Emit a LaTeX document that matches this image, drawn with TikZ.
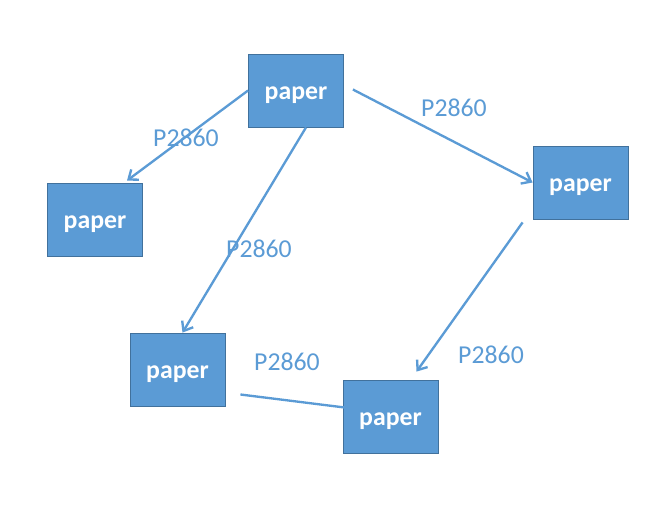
\documentclass[tikz,border=0pt]{standalone}
\usepackage{fontspec}
\setmainfont{Carlito}
\usetikzlibrary{arrows.meta,calc}
\definecolor{boxblue}{HTML}{5B9BD5}
\definecolor{boxedge}{HTML}{41719C}

\begin{document}
\begin{tikzpicture}[x=0.03cm, y=-0.03cm,
    paperbox/.style={fill=boxblue, draw=boxedge, line width=0.7pt, minimum width=2.85cm,
      minimum height=2.19cm, inner sep=0pt, text height=15pt, text depth=0pt, text=white,
      font=\fontsize{22}{26}\selectfont\bfseries},
    citelink/.style={draw=boxblue, line width=2pt, -{Straight Barb[length=7pt,width=11pt,line width=2pt]}},
    citelabel/.style={text=boxblue, font=\fontsize{22}{26}\selectfont}]
  \useasboundingbox (0,0) rectangle (671,512);
  \node[paperbox] (top) at (296,90.5) {paper};
  \node[paperbox] (left) at (95,219.5) {paper};
  \node[paperbox] (right) at (580.5,182.5) {paper};
  \node[paperbox] (botl) at (177.5,369.5) {paper};
  \node[paperbox] (botr) at (390.5,416.5) {paper};
  \draw[citelink] (top.west) -- ($(left.north)+(32,-2)$);
  \draw[citelink] ($(top.east)+(9,-1)$) -- (right.west);
  \draw[citelink] ($(top.south)+(10,0)$) -- ($(botl.north)+(5,0)$);
  \draw[citelink] ($(right.south west)+(-10,3)$) -- ($(botr.north)+(26,-8)$);
  \draw[citelink, -] ($(botl.east)+(15,25)$) -- ($(botr.west)+(2,-9)$);
  \node[citelabel] (lbla) at (186,138) {P2860};
  \node[citelabel] (lblb) at (454,108) {P2860};
  \node[citelabel] (lblc) at (259,249) {P2860};
  \node[citelabel] (lbld) at (491,355) {P2860};
  \node[citelabel] (lble) at (287,362) {P2860};
\end{tikzpicture}
\end{document}
